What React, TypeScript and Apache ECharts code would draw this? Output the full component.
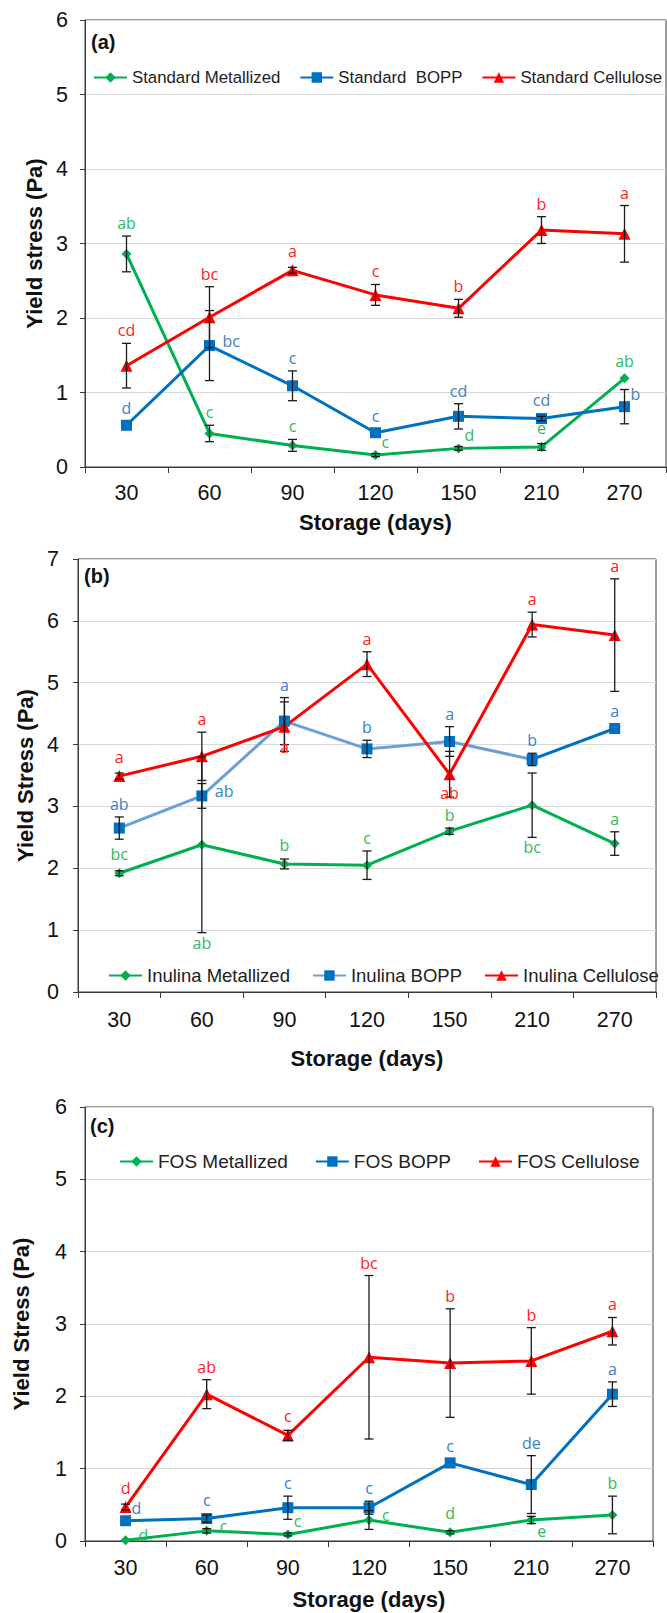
import React, { useEffect, useRef } from 'react';
import * as echarts from 'echarts';

const categories = ['30', '60', '90', '120', '150', '210', '270'];

// ---------- Panel (a) Standard ----------
const stdMetallized = [2.86, 0.45, 0.29, 0.16, 0.25, 0.27, 1.19];
const stdMetallizedSD = [0.24, 0.11, 0.08, 0.02, 0.025, 0.045, 0];
const stdMetallizedLetters = ['ab', 'c', 'c', 'c', 'd', 'e', 'ab'];
const stdMetallizedSide = ['t', 't', 't', 'rt', 'rt', 't', 't'];

const stdBOPP = [0.56, 1.63, 1.09, 0.46, 0.68, 0.65, 0.81];
const stdBOPPSD = [0, 0.47, 0.2, 0, 0.17, 0.03, 0.23];
const stdBOPPLetters = ['d', 'bc', 'c', 'c', 'cd', 'cd', 'b'];
const stdBOPPSide = ['t', 'r', 't', 't', 't', 't', 'rt'];

const stdCellulose = [1.36, 2.01, 2.64, 2.31, 2.13, 3.18, 3.13];
const stdCelluloseSD = [0.3, 0.41, 0.04, 0.14, 0.12, 0.18, 0.38];
const stdCelluloseLetters = ['cd', 'bc', 'a', 'c', 'b', 'b', 'a'];
const stdCelluloseSide = ['t', 't', 't', 't', 't', 't', 't'];

// ---------- Panel (b) Inulina ----------
const inuMetallized = [1.92, 2.38, 2.07, 2.05, 2.6, 3.02, 2.4];
const inuMetallizedSD = [0.04, 1.42, 0.08, 0.23, 0.05, 0.52, 0.19];
const inuMetallizedLetters = ['bc', 'ab', 'b', 'c', 'b', 'bc', 'a'];
const inuMetallizedSide = ['t', 'b', 't', 't', 'tc', 'b', 't'];

const inuBOPP = [2.65, 3.17, 4.38, 3.93, 4.05, 3.76, 4.26];
const inuBOPPSD = [0.18, 0.2, 0.38, 0.14, 0.24, 0.1, 0];
const inuBOPPLetters = ['ab', 'ab', 'a', 'b', 'a', 'b', 'a'];
const inuBOPPSide = ['t', 'r', 't', 't', 't', 't', 't'];

const inuCellulose = [3.49, 3.81, 4.29, 5.3, 3.52, 5.94, 5.77];
const inuCelluloseSD = [0.05, 0.39, 0.4, 0.2, 0.37, 0.2, 0.91];
const inuCelluloseLetters = ['a', 'a', 'a', 'a', 'ab', 'a', 'a'];
const inuCelluloseSide = ['t', 't', 'bm', 't', 'bm', 't', 't'];

// ---------- Panel (c) FOS ----------
const fosMetallized = [0.01, 0.14, 0.09, 0.29, 0.12, 0.29, 0.36];
const fosMetallizedSD = [0, 0.03, 0.02, 0.13, 0.02, 0.05, 0.26];
const fosMetallizedLetters = ['d', 'c', 'c', 'c', 'd', 'e', 'b'];
const fosMetallizedSide = ['r', 'r', 'rt', 'r', 't', 'rb', 't'];

const fosBOPP = [0.28, 0.31, 0.46, 0.46, 1.08, 0.78, 2.03];
const fosBOPPSD = [0, 0.05, 0.16, 0.09, 0, 0.4, 0.17];
const fosBOPPLetters = ['d', 'c', 'c', 'c', 'c', 'de', 'a'];
const fosBOPPSide = ['rt', 't', 't', 't', 't', 't', 't'];

const fosCellulose = [0.47, 2.03, 1.46, 2.54, 2.46, 2.49, 2.9];
const fosCelluloseSD = [0.04, 0.2, 0.07, 1.13, 0.75, 0.46, 0.19];
const fosCelluloseLetters = ['d', 'ab', 'c', 'bc', 'b', 'b', 'a'];
const fosCelluloseSide = ['t', 't', 't', 't', 't', 't', 't'];

const FONT = '"Liberation Sans", Arial, sans-serif';
const LFONT = '"Open Sans", "Liberation Sans", sans-serif';

const GREEN = '#00B050';
const BLUE = '#0070C0';
const LIGHTBLUE = '#6A9FD8';
const RED = '#FF0000';
const GREEN_L = '#33B85C';
const BLUE_L = '#3A7FC8';
const RED_L = '#FF2222';

type Ser = {
  name: string;
  values: number[];
  sd: number[];
  letters: string[];
  side: string[];
  color: string;
  labelColor: string;
  symbol: string;
  symbolSize: number;
  lineColor?: any;
};

function lineSeries(s: Ser, k: number) {
  return {
    type: 'line',
    name: s.name,
    xAxisIndex: k,
    yAxisIndex: k,
    data: s.values,
    symbol: s.symbol,
    symbolSize: s.symbolSize,
    showAllSymbol: true,
    lineStyle: { width: 3, color: s.lineColor || s.color },
    itemStyle: { color: s.color },
    z: 3,
    silent: true,
  };
}

function errSeries(s: Ser, k: number) {
  return {
    type: 'custom',
    name: s.name + ' err',
    xAxisIndex: k,
    yAxisIndex: k,
    z: 5,
    silent: true,
    encode: { x: 0, y: 1 },
    data: s.values.map((v, i) => [i, v, s.sd[i]]),
    renderItem: (params: any, api: any) => {
      const i = api.value(0);
      const v = api.value(1);
      const sd = api.value(2);
      const p = api.coord([i, v]);
      const t = api.coord([i, v + sd]);
      const b = api.coord([i, v - sd]);
      const children: any[] = [];
      const es = { stroke: '#1a1a1a', lineWidth: 1.3 };
      if (sd > 0) {
        children.push({ type: 'line', shape: { x1: p[0], y1: t[1], x2: p[0], y2: b[1] }, style: es });
        children.push({ type: 'line', shape: { x1: p[0] - 4.5, y1: t[1], x2: p[0] + 4.5, y2: t[1] }, style: es });
        children.push({ type: 'line', shape: { x1: p[0] - 4.5, y1: b[1], x2: p[0] + 4.5, y2: b[1] }, style: es });
      }
      const side = s.side[params.dataIndex];
      let x = p[0];
      let y = p[1];
      let align = 'center';
      let va = 'bottom';
      if (side === 't') {
        y = sd > 0 ? Math.min(t[1], p[1] - 6) - 5 : p[1] - 9;
      } else if (side === 'tc') {
        y = Math.min(t[1], p[1] - 6) - 2;
      } else if (side === 'b') {
        y = sd > 0 ? Math.max(b[1], p[1] + 6) + 2 : p[1] + 7;
        va = 'top';
      } else if (side === 'bm') {
        y = b[1] - 4;
        va = 'middle';
      } else if (side === 'r') {
        x = p[0] + 13;
        y = p[1] - 5;
        align = 'left';
        va = 'middle';
      } else if (side === 'rt') {
        x = p[0] + 6;
        y = p[1] - 13;
        align = 'left';
        va = 'middle';
      } else if (side === 'rb') {
        x = p[0] + 6;
        y = p[1] + 11;
        align = 'left';
        va = 'middle';
      }
      children.push({
        type: 'text',
        x,
        y,
        style: {
          text: s.letters[params.dataIndex],
          fill: s.labelColor,
          fontSize: 16,
          fontFamily: LFONT,
          align,
          verticalAlign: va,
        },
      });
      return { type: 'group', children };
    },
  };
}

const blueGradient = new echarts.graphic.LinearGradient(0, 0, 1, 0, [
  { offset: 0, color: LIGHTBLUE },
  { offset: 0.833, color: LIGHTBLUE },
  { offset: 0.834, color: BLUE },
  { offset: 1, color: BLUE },
]);

const panels: { series: Ser[] }[] = [
  {
    series: [
      { name: 'Standard Metallized', values: stdMetallized, sd: stdMetallizedSD, letters: stdMetallizedLetters, side: stdMetallizedSide, color: GREEN, labelColor: GREEN_L, symbol: 'diamond', symbolSize: 10 },
      { name: 'Standard  BOPP', values: stdBOPP, sd: stdBOPPSD, letters: stdBOPPLetters, side: stdBOPPSide, color: BLUE, labelColor: BLUE_L, symbol: 'rect', symbolSize: 11 },
      { name: 'Standard Cellulose', values: stdCellulose, sd: stdCelluloseSD, letters: stdCelluloseLetters, side: stdCelluloseSide, color: RED, labelColor: RED_L, symbol: 'triangle', symbolSize: 12 },
    ],
  },
  {
    series: [
      { name: 'Inulina Metallized', values: inuMetallized, sd: inuMetallizedSD, letters: inuMetallizedLetters, side: inuMetallizedSide, color: GREEN, labelColor: GREEN_L, symbol: 'diamond', symbolSize: 10 },
      { name: 'Inulina BOPP', values: inuBOPP, sd: inuBOPPSD, letters: inuBOPPLetters, side: inuBOPPSide, color: BLUE, labelColor: BLUE_L, symbol: 'rect', symbolSize: 11, lineColor: blueGradient },
      { name: 'Inulina Cellulose', values: inuCellulose, sd: inuCelluloseSD, letters: inuCelluloseLetters, side: inuCelluloseSide, color: RED, labelColor: RED_L, symbol: 'triangle', symbolSize: 12 },
    ],
  },
  {
    series: [
      { name: 'FOS Metallized', values: fosMetallized, sd: fosMetallizedSD, letters: fosMetallizedLetters, side: fosMetallizedSide, color: GREEN, labelColor: GREEN_L, symbol: 'diamond', symbolSize: 10 },
      { name: 'FOS BOPP', values: fosBOPP, sd: fosBOPPSD, letters: fosBOPPLetters, side: fosBOPPSide, color: BLUE, labelColor: BLUE_L, symbol: 'rect', symbolSize: 11 },
      { name: 'FOS Cellulose', values: fosCellulose, sd: fosCelluloseSD, letters: fosCelluloseLetters, side: fosCelluloseSide, color: RED, labelColor: RED_L, symbol: 'triangle', symbolSize: 12 },
    ],
  },
];

const yMax = [6, 7, 6];
const yNames = ['Yield stress (Pa)', 'Yield Stress (Pa)', 'Yield Stress (Pa)'];
const panelLabels = ['(a)', '(b)', '(c)'];

const grids = [
  { left: 85, top: 20, width: 581, height: 447 },
  { left: 78, top: 559, width: 578, height: 433 },
  { left: 85, top: 1107, width: 568, height: 434 },
];
const yNameGap = [40, 38, 53];
const yLabelMargin = [17, 19, 18];
const xNameGap = [44, 55, 47];
const xLabelMargin = [15, 17, 16];
const legendPos = [
  { left: 93, top: 68, fontSize: 16.8, gap: 19 },
  { left: 108, top: 966, fontSize: 18.5, gap: 22 },
  { left: 119, top: 1152, fontSize: 19, gap: 27 },
];
const labelPos = [
  { left: 91, top: 32 },
  { left: 84, top: 566 },
  { left: 90, top: 1116 },
];

export default function App() {
  const ref = useRef<HTMLDivElement>(null);
  useEffect(() => {
    if (!ref.current) return;
    const chart = echarts.init(ref.current, undefined, { renderer: 'svg' });
    const axisColor = '#3a3a3a';
    const option: any = {
      animation: false,
      backgroundColor: '#ffffff',
      title: panelLabels.map((t, k) => ({
        text: t,
        left: labelPos[k].left,
        top: labelPos[k].top,
        padding: 0,
        textStyle: { fontSize: 20, fontWeight: 'bold', fontFamily: FONT, color: '#111' },
      })),
      grid: grids.map((g) => ({
        ...g,
        show: true,
        borderColor: axisColor,
        borderWidth: 1,
        backgroundColor: 'transparent',
        containLabel: false,
        outerBoundsMode: 'none',
      })),
      xAxis: grids.map((_, k) => ({
        type: 'category',
        gridIndex: k,
        data: categories,
        boundaryGap: true,
        name: 'Storage (days)',
        nameLocation: 'middle',
        nameGap: xNameGap[k],
        nameTextStyle: { fontSize: 22, fontWeight: 'bold', fontFamily: FONT, color: '#111' },
        axisLine: { show: true, lineStyle: { color: axisColor, width: 1 } },
        axisTick: { show: true, length: 6, lineStyle: { color: axisColor } },
        axisLabel: { fontSize: 21.5, fontFamily: FONT, color: '#111', margin: xLabelMargin[k] },
        splitLine: { show: false },
      })),
      yAxis: grids.map((_, k) => ({
        type: 'value',
        gridIndex: k,
        min: 0,
        max: yMax[k],
        interval: 1,
        name: yNames[k],
        nameLocation: 'middle',
        nameGap: yNameGap[k],
        nameTextStyle: { fontSize: 22, fontWeight: 'bold', fontFamily: FONT, color: '#111' },
        axisLine: { show: true, lineStyle: { color: axisColor, width: 1 } },
        axisTick: { show: true, length: 5, lineStyle: { color: axisColor } },
        axisLabel: { fontSize: 21.5, fontFamily: FONT, color: '#111', margin: yLabelMargin[k] },
        splitLine: { show: true, lineStyle: { color: '#d9d9d9', width: 1 } },
      })),
      legend: panels.map((p, k) => ({
        left: legendPos[k].left,
        top: legendPos[k].top,
        width: 1200,
        padding: 0,
        itemWidth: 33,
        itemHeight: 13,
        itemGap: legendPos[k].gap,
        selectedMode: false,
        textStyle: { fontSize: legendPos[k].fontSize, fontFamily: FONT, color: '#222', lineHeight: 19 },
        data: p.series.map((s) =>
          s.lineColor ? { name: s.name, lineStyle: { color: LIGHTBLUE } } : { name: s.name }
        ),
      })),
      series: [
        ...panels.flatMap((p, k) => p.series.map((s) => lineSeries(s, k))),
        ...panels.flatMap((p, k) => p.series.map((s) => errSeries(s, k))),
      ],
    };
    chart.setOption(option);
    return () => chart.dispose();
  }, []);
  return (
    <div
      ref={ref}
      style={{ position: 'absolute', left: 0, top: 0, width: 667, height: 1613, background: '#fff' }}
    />
  );
}
